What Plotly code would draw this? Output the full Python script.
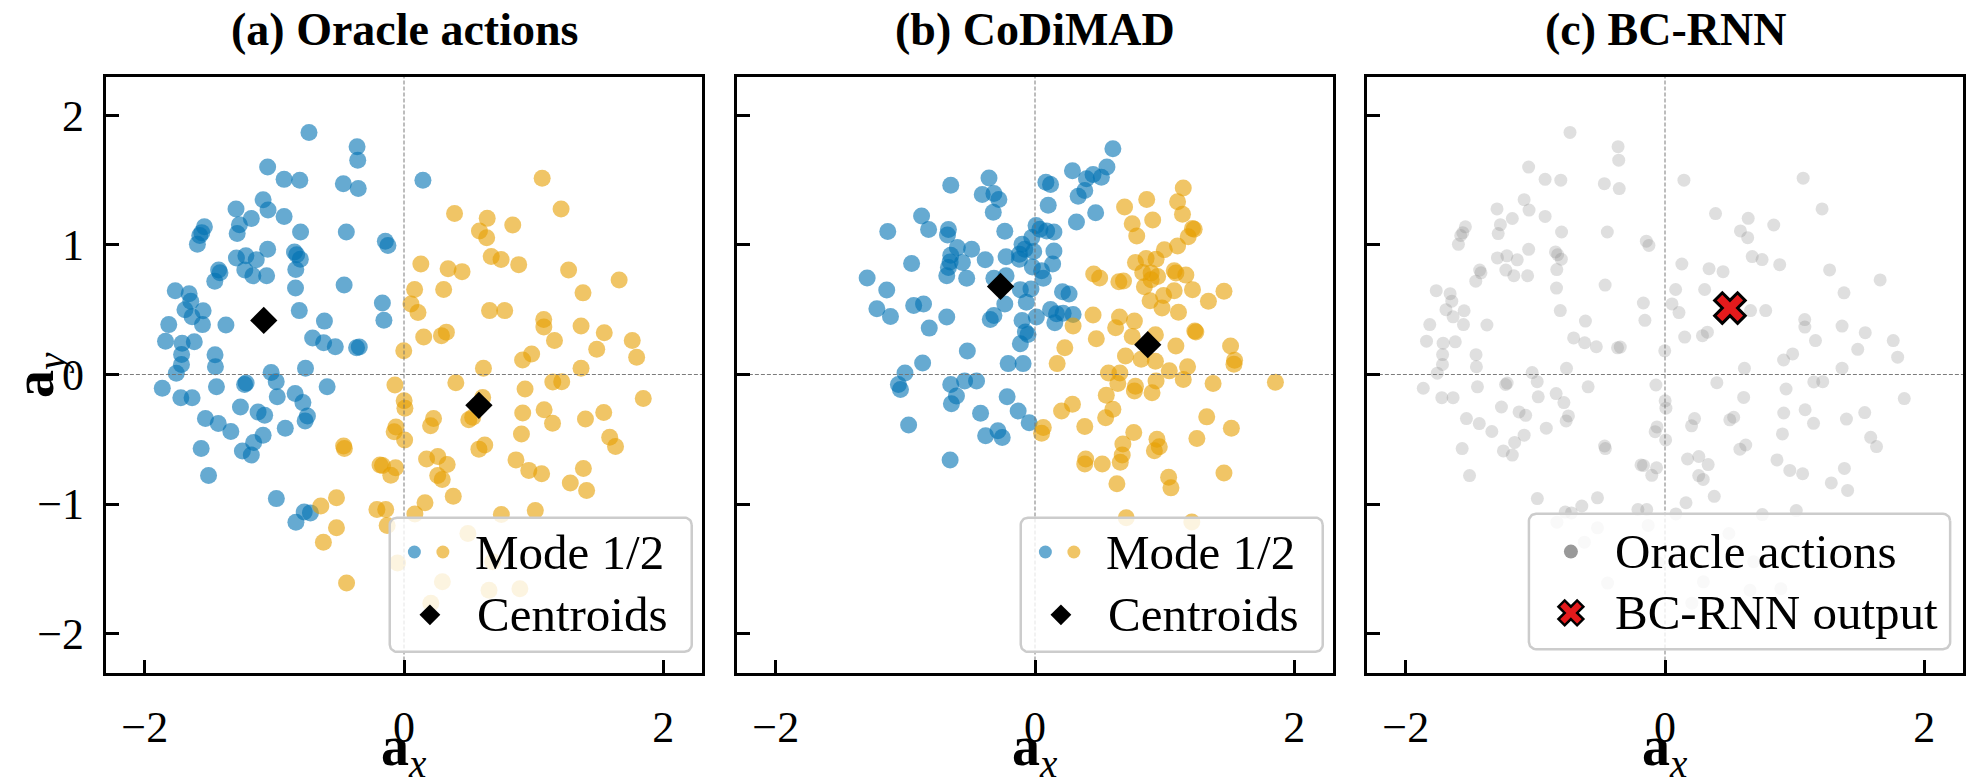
import numpy as np
import plotly.graph_objects as go

# ---------------- data ----------------
oracle_mode1_x = [-0.733, -0.362, -0.357, -1.052, -0.925, -0.804, -0.468, 0.146, -0.353, -1.087,
 -1.296, -1.049, -0.925, -1.178, -1.270, -1.540, -1.576, -1.560, -1.287, -0.798,
 -0.445, -0.144, -0.124, -1.594, -1.052, -1.293, -1.220, -1.140, -0.845, -0.828,
 -0.800, -1.228, -1.430, -1.420, -0.835, -1.166, -1.060, -1.460, -0.462, -1.765,
 -1.658, -0.837, -1.645, -0.167, -1.690, -1.550, -1.635, -0.808, -1.815, -1.555,
 -1.374, -0.614, -0.155, -1.840, -1.712, -1.618, -0.705, -0.620, -0.530, -0.366,
 -0.345, -1.716, -1.458, -1.717, -1.455, -1.757, -1.025, -0.760, -1.865, -1.447,
 -1.230, -1.218, -0.986, -0.593, -1.722, -1.635, -0.978, -0.840, -0.780, -1.262,
 -1.126, -1.075, -1.532, -0.745, -0.763, -1.433, -0.916, -1.336, -1.087, -1.160,
 -1.565, -1.247, -1.178, -1.508, -0.985, -0.770, -0.722, -0.834]
oracle_mode1_y = [1.868, 1.758, 1.654, 1.601, 1.506, 1.500, 1.473, 1.500, 1.435, 1.349,
 1.278, 1.269, 1.220, 1.204, 1.156, 1.140, 1.073, 1.095, 1.088, 1.100,
 1.100, 1.029, 0.996, 1.005, 0.966, 0.900, 0.916, 0.885, 0.946, 0.925,
 0.890, 0.806, 0.806, 0.785, 0.810, 0.762, 0.762, 0.720, 0.690, 0.647,
 0.624, 0.667, 0.566, 0.552, 0.500, 0.492, 0.445, 0.493, 0.385, 0.385,
 0.382, 0.412, 0.418, 0.257, 0.242, 0.252, 0.282, 0.245, 0.214, 0.206,
 0.212, 0.154, 0.153, 0.077, 0.060, 0.010, 0.015, 0.048, -0.106, -0.095,
 -0.077, -0.066, -0.055, -0.095, -0.179, -0.179, -0.172, -0.147, -0.217, -0.251,
 -0.289, -0.315, -0.340, -0.320, -0.358, -0.379, -0.414, -0.440, -0.468, -0.524,
 -0.572, -0.590, -0.622, -0.780, -0.958, -1.062, -1.068, -1.140]

oracle_mode2_x = [1.066, 1.212, 0.390, 0.642, 0.839, 0.582, 0.638, 0.673, 0.749, 0.885,
 0.130, 0.340, 0.448, 1.270, 1.660, 0.082, 0.306, 1.381, 0.054, 0.108,
 0.660, 0.777, 1.078, 1.079, 1.366, 1.545, 0.152, 0.289, 0.327, 1.161,
 1.761, 1.487, -0.002, 0.915, 0.985, 1.795, 0.613, 1.366, 0.400, -0.070,
 1.148, 1.217, 0.001, 0.007, 0.607, 0.934, 1.846, 0.916, 1.081, 1.541,
 0.228, 0.500, 0.530, 1.146, 1.400, -0.062, -0.076, 0.205, 0.906, 0.005,
 1.587, 1.632, -0.466, -0.460, 0.578, 0.623, 0.174, 0.261, 0.333, 0.864,
 -0.166, -0.185, -0.065, -0.102, 0.260, 0.295, 0.963, 1.062, 1.384, 1.283,
 1.409, -0.521, -0.642, 0.380, 0.162, -0.209, -0.141, 0.084, 0.751, 1.013,
 -0.521, -0.622, -0.130, 0.493, 0.684, -0.050, -0.443, 0.296, 0.656, 0.894,
 0.207]
oracle_mode2_y = [1.515, 1.278, 1.242, 1.205, 1.154, 1.108, 1.056, 0.910, 0.887, 0.848,
 0.853, 0.817, 0.794, 0.807, 0.730, 0.656, 0.656, 0.630, 0.545, 0.478,
 0.493, 0.493, 0.424, 0.366, 0.374, 0.323, 0.289, 0.300, 0.327, 0.262,
 0.262, 0.194, 0.183, 0.112, 0.159, 0.134, 0.048, 0.049, -0.063, -0.081,
 -0.057, -0.055, -0.203, -0.260, -0.177, -0.112, -0.186, -0.297, -0.272, -0.294,
 -0.340, -0.350, -0.330, -0.377, -0.344, -0.405, -0.441, -0.396, -0.459, -0.505,
 -0.485, -0.556, -0.552, -0.572, -0.576, -0.544, -0.652, -0.633, -0.695, -0.659,
 -0.702, -0.698, -0.720, -0.778, -0.780, -0.810, -0.740, -0.766, -0.725, -0.837,
 -0.895, -0.952, -1.015, -0.940, -0.990, -1.042, -1.042, -1.076, -1.081, -1.050,
 -1.183, -1.294, -1.165, -1.227, -1.445, -1.455, -1.610, -1.600, -1.665, -1.653,
 -1.765]

oracle_centroid_x = [-1.082, 0.578]
oracle_centroid_y = [0.417, -0.238]

codimad_mode1_x = [-0.650, -0.355, -0.407, -0.317, -0.279, -0.322, -0.875, -1.136, -0.821, -0.668,
 -0.675, -0.233, -0.599, -0.489, -0.384, -0.560, -0.650, -0.655, -0.668, -0.952,
 -0.223, -0.681, -0.527, -1.295, -1.144, -0.317, -0.223, -0.113, -0.031, -1.220,
 -1.115, -0.936, -0.860, -0.233, -0.067, -0.681, -0.816, -0.317, -0.345, -0.100,
 0.010, -0.074, -0.054, -0.113, -0.522, -0.867, -0.207, -0.092, -1.003, -0.543,
 -0.451, -1.054, -1.038, -0.650, -0.606, -0.645, -0.215, -0.420, -0.130, -0.045,
 -0.975, -0.381, -0.286, -0.253, -0.655, 0.601, 0.555, 0.289, 0.448, 0.512,
 0.397, 0.084, 0.120, 0.384, 0.333, 0.102, 0.468, 0.320, 0.008, 0.038,
 0.090, 0.146, -0.025, -0.100, -0.079, -0.120, -0.120, 0.146, 0.136, 0.051,
 0.064, 0.212, 0.263, 0.120, 0.166, 0.217, 0.294, 0.153, -0.020, -0.010]
codimad_mode1_y = [1.460, 1.517, 1.389, 1.397, 1.351, 1.253, 1.223, 1.103, 1.120, 1.120,
 1.077, 1.105, 0.980, 0.967, 0.885, 0.865, 0.921, 0.868, 0.826, 0.857,
 0.908, 0.762, 0.742, 0.744, 0.652, 0.742, 0.762, 0.655, 0.660, 0.507,
 0.448, 0.532, 0.545, 0.545, 0.558, 0.443, 0.358, 0.455, 0.424, 0.417,
 0.443, 0.328, 0.309, 0.238, 0.182, 0.088, 0.084, 0.084, 0.012, -0.050,
 -0.050, -0.077, -0.115, -0.077, -0.166, -0.225, -0.171, -0.299, -0.281, -0.373,
 -0.389, -0.473, -0.435, -0.486, -0.660, 1.742, 1.601, 1.573, 1.543, 1.522,
 1.510, 1.484, 1.466, 1.420, 1.376, 1.307, 1.249, 1.177, 1.150, 1.121,
 1.108, 1.100, 1.057, 1.005, 0.967, 0.929, 0.890, 0.954, 0.852, 0.800,
 0.742, 0.639, 0.622, 0.501, 0.468, 0.473, 0.463, 0.399, 0.830, 0.950]

codimad_mode2_x = [1.144, 0.862, 1.100, 1.138, 0.691, 0.908, 0.750, 0.785, 1.215, 1.228,
 1.182, 1.100, 0.998, 0.934, 0.857, 0.775, 0.831, 0.896, 0.946, 0.896,
 1.074, 1.087, 1.164, 0.453, 0.499, 0.647, 0.683, 0.844, 1.074, 1.215,
 1.458, 0.992, 0.888, 0.980, 1.338, 1.107, 0.448, 0.652, 0.622, 0.767,
 0.294, 1.233, 1.241, 0.473, 0.750, 0.929, 0.230, 1.087, 1.509, 1.540,
 1.535, 0.698, 0.819, 0.929, 0.171, 1.177, 0.567, 0.655, 1.036, 0.639,
 1.144, 0.775, 0.767, 0.903, 0.934, 1.374, 1.855, 0.550, 0.601, 0.545,
 0.289, 0.205, 0.064, 0.051, 0.384, 0.762, 1.325, 1.515, 1.249, 0.941,
 0.959, 0.921, 0.678, 0.673, 0.658, 0.391, 0.384, 0.519, 1.458, 1.031,
 1.049, 0.632, 0.704, 1.210]
codimad_mode2_y = [1.440, 1.351, 1.333, 1.236, 1.292, 1.192, 1.164, 1.069, 1.126, 1.121,
 1.064, 0.992, 0.962, 0.890, 0.896, 0.865, 0.788, 0.783, 0.757, 0.731,
 0.800, 0.783, 0.767, 0.775, 0.744, 0.716, 0.721, 0.678, 0.647, 0.655,
 0.642, 0.609, 0.570, 0.514, 0.566, 0.481, 0.460, 0.443, 0.361, 0.412,
 0.374, 0.335, 0.328, 0.276, 0.294, 0.307, 0.207, 0.220, 0.220, 0.110,
 0.079, 0.143, 0.117, 0.102, 0.084, 0.059, 0.012, 0.012, 0.028, -0.069,
 -0.038, -0.090, -0.128, -0.141, -0.051, -0.069, -0.059, -0.161, -0.269, -0.333,
 -0.230, -0.281, -0.409, -0.453, -0.402, -0.448, -0.327, -0.415, -0.494, -0.499,
 -0.558, -0.588, -0.537, -0.622, -0.678, -0.652, -0.691, -0.691, -0.760, -0.793,
 -0.875, -0.844, -1.105, -1.138]

codimad_centroid_x = [-0.266, 0.870]
codimad_centroid_y = [0.680, 0.230]

bcrnn_x = [0.501]
bcrnn_y = [0.513]

panel_titles = ["(a) Oracle actions", "(b) CoDiMAD", "(c) BC-RNN"]
x_ticks = [-2, 0, 2]
y_ticks = [-2, -1, 0, 1, 2]
axis_range = [-2.3, 2.3]

# ---------------- styling ----------------
SERIF = "Liberation Serif"
BLUE = "rgba(0,114,178,0.6)"
ORANGE = "rgba(230,159,0,0.6)"
GRAY_PT = "rgba(128,128,128,0.25)"
W, H = 1967, 784
panel_px = [(104.4, 703.6), (735.4, 1334.6), (1365.4, 1964.6)]
top_px, bot_px = 75, 674
LW = 3

def rounded_box(x0, x1, y0, y1, r, n=10):
    xs, ys = [], []
    corners = [(x1 - r, y1 - r, 0, 90), (x0 + r, y1 - r, 90, 180),
               (x0 + r, y0 + r, 180, 270), (x1 - r, y0 + r, 270, 360)]
    for cx, cy, a0, a1 in corners:
        t = np.radians(np.linspace(a0, a1, n))
        xs += list(cx + r * np.cos(t))
        ys += list(cy + r * np.sin(t))
    xs.append(xs[0]); ys.append(ys[0])
    return xs, ys

fig = go.Figure()

def axes_ids(i):
    return ("x" if i == 0 else f"x{i+1}"), ("y" if i == 0 else f"y{i+1}")

def add_zero_lines(i):
    xr, yr = axes_ids(i)
    dash = dict(color="rgba(110,110,110,0.9)", width=1, dash="4px,2px")
    fig.add_trace(go.Scatter(x=[0, 0], y=axis_range, mode="lines", line=dash,
                             xaxis=xr, yaxis=yr, showlegend=False, hoverinfo="skip"))
    fig.add_trace(go.Scatter(x=axis_range, y=[0, 0], mode="lines", line=dash,
                             xaxis=xr, yaxis=yr, showlegend=False, hoverinfo="skip"))

def add_legend_box(i, x0, x1, y0, y1):
    xr, yr = axes_ids(i)
    bx, by = rounded_box(x0, x1, y0, y1, 0.055)
    fig.add_trace(go.Scatter(x=bx, y=by, mode="lines", fill="toself",
                             fillcolor="rgba(255,255,255,0.8)",
                             line=dict(color="#cccccc", width=2.5),
                             xaxis=xr, yaxis=yr, showlegend=False, hoverinfo="skip"))

def legend_text(i, x, y, text):
    xr, yr = axes_ids(i)
    fig.add_annotation(x=x, y=y, xref=xr, yref=yr, text=text, showarrow=False,
                       xanchor="left", yanchor="middle",
                       font=dict(family=SERIF, size=49, color="black"))

# ---- panels (a) and (b): mode clusters ----
panel_data = [
    (oracle_mode1_x, oracle_mode1_y, oracle_mode2_x, oracle_mode2_y, oracle_centroid_x, oracle_centroid_y),
    (codimad_mode1_x, codimad_mode1_y, codimad_mode2_x, codimad_mode2_y, codimad_centroid_x, codimad_centroid_y),
]
for i, (m1x, m1y, m2x, m2y, cx, cy) in enumerate(panel_data):
    xr, yr = axes_ids(i)
    fig.add_trace(go.Scatter(x=m1x, y=m1y, mode="markers", marker=dict(size=17, color=BLUE),
                             xaxis=xr, yaxis=yr, showlegend=False))
    fig.add_trace(go.Scatter(x=m2x, y=m2y, mode="markers", marker=dict(size=17, color=ORANGE),
                             xaxis=xr, yaxis=yr, showlegend=False))
    add_zero_lines(i)
    fig.add_trace(go.Scatter(x=cx, y=cy, mode="markers",
                             marker=dict(size=21, color="black", symbol="diamond"),
                             xaxis=xr, yaxis=yr, showlegend=False))
    # legend
    add_legend_box(i, -0.11, 2.22, -2.14, -1.105)
    fig.add_trace(go.Scatter(x=[0.08], y=[-1.37], mode="markers", marker=dict(size=13, color=BLUE),
                             xaxis=xr, yaxis=yr, showlegend=False, hoverinfo="skip"))
    fig.add_trace(go.Scatter(x=[0.30], y=[-1.37], mode="markers", marker=dict(size=13, color=ORANGE),
                             xaxis=xr, yaxis=yr, showlegend=False, hoverinfo="skip"))
    fig.add_trace(go.Scatter(x=[0.20], y=[-1.855], mode="markers",
                             marker=dict(size=16, color="black", symbol="diamond"),
                             xaxis=xr, yaxis=yr, showlegend=False, hoverinfo="skip"))
    legend_text(i, 0.53, -1.37, "Mode 1/2")
    legend_text(i, 0.545, -1.85, "Centroids")

# ---- panel (c): BC-RNN ----
all_x = oracle_mode1_x + oracle_mode2_x
all_y = oracle_mode1_y + oracle_mode2_y
fig.add_trace(go.Scatter(x=all_x, y=all_y, mode="markers", marker=dict(size=13, color=GRAY_PT),
                         xaxis="x3", yaxis="y3", showlegend=False))
add_zero_lines(2)
fig.add_trace(go.Scatter(x=bcrnn_x, y=bcrnn_y, mode="markers",
                         marker=dict(size=27, color="#e41a1c", symbol="x",
                                     line=dict(color="black", width=3)),
                         xaxis="x3", yaxis="y3", showlegend=False))
add_legend_box(2, -1.05, 2.2, -2.12, -1.075)
fig.add_trace(go.Scatter(x=[-0.726], y=[-1.367], mode="markers", marker=dict(size=14, color="#999999"),
                         xaxis="x3", yaxis="y3", showlegend=False, hoverinfo="skip"))
fig.add_trace(go.Scatter(x=[-0.726], y=[-1.84], mode="markers",
                         marker=dict(size=22, color="#e41a1c", symbol="x",
                                     line=dict(color="black", width=2.5)),
                         xaxis="x3", yaxis="y3", showlegend=False, hoverinfo="skip"))
legend_text(2, -0.40, -1.367, "Oracle actions")
legend_text(2, -0.40, -1.84, "BC-RNN output")

# ---------------- axes ----------------
ydom = [(H - bot_px + LW / 2) / H, (H - top_px - LW / 2) / H]
layout = dict(width=W, height=H, margin=dict(l=0, r=0, t=0, b=0),
              paper_bgcolor="white", plot_bgcolor="rgba(0,0,0,0)", showlegend=False)
for i, (l, r) in enumerate(panel_px):
    sfx = "" if i == 0 else str(i + 1)
    common = dict(range=axis_range, showgrid=False, zeroline=False, showline=True,
                  linecolor="black", linewidth=LW, mirror=True, ticks="inside",
                  ticklen=13, tickwidth=2.5, tickcolor="black",
                  tickfont=dict(family=SERIF, size=44, color="black"))
    layout["xaxis" + sfx] = dict(common, domain=[(l + LW / 2) / W, (r - LW / 2) / W],
                                 anchor="y" + sfx, tickvals=x_ticks, ticklabelstandoff=14)
    layout["yaxis" + sfx] = dict(common, domain=ydom, anchor="x" + sfx, tickvals=y_ticks,
                                 showticklabels=(i == 0), ticklabelstandoff=10)
fig.update_layout(**layout)

# titles and axis labels
for i, (l, r) in enumerate(panel_px):
    cxp = ((l + r) / 2) / W
    fig.add_annotation(x=cxp, y=(H - 29) / H, xref="paper", yref="paper", showarrow=False,
                       text="<b>" + panel_titles[i] + "</b>", xanchor="center", yanchor="middle",
                       font=dict(family=SERIF, size=46, color="black"))
    fig.add_annotation(x=cxp, y=(H - 750) / H, xref="paper", yref="paper", showarrow=False,
                       text="<b>a</b><sub><i>x</i></sub>", xanchor="center", yanchor="middle",
                       font=dict(family=SERIF, size=56, color="black"))
fig.add_annotation(x=38 / W, y=(H - 375) / H, xref="paper", yref="paper", showarrow=False,
                   text="<b>a</b><sub><i>y</i></sub>", textangle=-90,
                   xanchor="center", yanchor="middle",
                   font=dict(family=SERIF, size=56, color="black"))

fig.write_html("out.html")
